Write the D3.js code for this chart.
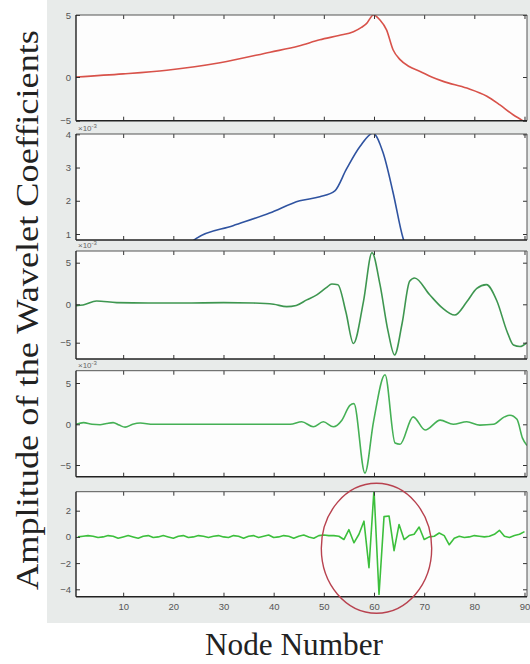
<!DOCTYPE html>
<html>
<head>
<meta charset="utf-8">
<script src="https://cdn.jsdelivr.net/npm/d3@7"></script>
<style>
  html, body { margin: 0; padding: 0; background: #ffffff; }
  svg { display: block; }
</style>
</head>
<body>
<svg id="chart" width="530" height="664"></svg>
<script>
// ---- data -------------------------------------------------------------
const nodeTicks = [10, 20, 30, 40, 50, 60, 70, 80, 90];

// approximation signal (level 1)
const a1Nodes  = [0.6, 10, 18.7, 29.3, 39.3, 45, 49.2, 53, 55.9, 57.5, 58.5, 59.9, 61.2, 62.5, 63.8, 65.2, 67, 69.2, 71.5, 73.8, 78.5, 82.5, 85.1, 87.8, 89.4, 90.5];
const a1Values = [0, 0.25, 0.55, 1.15, 2.0, 2.5, 3.0, 3.35, 3.65, 4.0, 4.3, 5.0, 4.6, 3.8, 2.2, 1.4, 0.85, 0.45, 0.0, -0.5, -1.27, -2.2, -3.2, -4.35, -4.9, -5.3];
const a1Ticks  = [-5, 0, 5];

// approximation signal (level 2), ×10^-3
const a2Nodes  = [22, 24.6, 31.9, 39.2, 45.2, 49.2, 52.2, 54.5, 57.2, 59.8, 61.8, 63.8, 65.8, 67.5];
const a2Values = [0.55, 0.87, 1.25, 1.63, 2.0, 2.12, 2.3, 2.95, 3.63, 4.03, 3.45, 2.25, 0.87, 0.3];
const a2Ticks  = [1, 2, 3, 4];

// detail coefficients (level 3), ×10^-3
const d3Nodes  = [0.6, 2, 4.7, 8.7, 15, 22, 30, 36, 40, 42.6, 44.5, 46.6, 48.6, 50.5, 51.6, 52.8, 54.4, 55.9, 57.9, 59.6, 61.2, 62.8, 64.1, 65.6, 67.1, 68.1, 71.1, 73.5, 76.1, 78.5, 80.5, 82.4, 84.5, 86.5, 87.8, 89.1, 90.5];
const d3Values = [-0.17, -0.1, 0.4, 0.2, 0.15, 0.15, 0.2, 0.15, 0.0, -0.3, -0.15, 0.53, 1.14, 2.0, 2.44, 2.36, -1.0, -5.1, 0.33, 6.2, 2.36, -3.5, -6.6, -2.5, 2.76, 3.17, 1.14, -0.4, -1.4, 0.3, 1.9, 2.36, 0.4, -3.5, -5.3, -5.5, -5.0];
const d3Ticks  = [-5, 0, 5];

// detail coefficients (level 2), ×10^-3
const d2Nodes  = [0.6, 2.1, 3.8, 5.4, 6.7, 8.0, 9.2, 10.4, 11.9, 13.4, 16, 25, 35, 41, 43.3, 45.6, 47.9, 49.9, 51.9, 53.6, 55.2, 56.0, 58.2, 59.9, 62.2, 64.2, 65.2, 67.8, 70.2, 73.2, 75.8, 78.5, 81.1, 83.8, 86, 87.1, 88.5, 89.6, 90.5];
const d2Values = [0, 0.2, 0.0, -0.05, 0.1, 0.2, -0.1, -0.35, 0.0, 0.15, 0.0, 0.0, 0.0, 0.0, 0.0, 0.3, -0.3, 0.3, -0.3, 0.5, 2.3, 2.5, -6.0, 0.3, 6.0, -2.3, -2.45, 0.9, -0.7, 0.5, 0.0, 0.3, -0.1, 0.0, 0.9, 1.1, 0.6, -1.7, -2.6];
const d2Ticks  = [-5, 0, 5];

// detail coefficients (level 1)
const d1Nodes  = d3.range(1, 91);
const d1Values = [0, 0.05, 0.1, 0.05, -0.05, 0, 0.1, 0.05, -0.1, 0,
                  0.1, 0, -0.1, 0.05, 0.1, -0.05, 0, 0.1, 0, -0.1,
                  0.05, 0.1, -0.05, 0, 0.1, 0.05, -0.05, 0.05, 0.1, 0,
                  -0.05, 0.1, 0.05, -0.1, 0.05, 0.1, -0.05, 0.05, 0.15, -0.05,
                  0, 0.1, 0.05, -0.1, 0.05, 0.15, 0, -0.1, 0.1, 0.15,
                  0.1, 0.1, 0.05, -0.2, 0.55, -0.45, 0.2, 1.2, -2.35, 3.6,
                  -4.4, 1.55, 1.6, -1.05, 0.95, -0.2, 0.1, 0.2, 0.75, -0.2,
                  0, 0.05, 0.3, 0.1, -0.6, -0.1, 0.05, -0.05, 0, 0.1,
                  0.05, 0, 0.05, 0.2, 0.5, 0.05, -0.05, 0.1, 0.2, 0.4];
const d1Ticks  = [-4, -2, 0, 2];

// highlighted region on the level-1 details (node range, value range)
const focusNodes  = [49.5, 71.5];
const focusValues = [-5.83, 4.09];

// ---- layout -----------------------------------------------------------
const svg = d3.select("#chart");
const W = 530, H = 664;
const left = 76, right = 527;

svg.append("rect").attr("x", 0).attr("y", 0).attr("width", W).attr("height", H).attr("fill", "#ffffff");
svg.append("rect").attr("x", 47).attr("y", 0).attr("width", W - 47).attr("height", 623).attr("fill", "#e8ebea");

const x = d3.scaleLinear().domain([0.6, 90.5]).range([left, right]);

const panels = [
  { nodes: a1Nodes, values: a1Values, ticks: a1Ticks, color: "#d8524a", exp: false, linear: false,
    y: d3.scaleLinear().domain([-5, 0, 5]).range([120.7, 77, 15]), top: 15, bottom: 120.7 },
  { nodes: a2Nodes, values: a2Values, ticks: a2Ticks, color: "#2f53a0", exp: true, linear: false,
    y: d3.scaleLinear().domain([1, 4]).range([234, 134.3]), top: 134, bottom: 240 },
  { nodes: d3Nodes, values: d3Values, ticks: d3Ticks, color: "#3e9650", exp: true, linear: false,
    y: d3.scaleLinear().domain([-5, 0, 5]).range([342.7, 304.3, 262.7]), top: 251, bottom: 359 },
  { nodes: d2Nodes, values: d2Values, ticks: d2Ticks, color: "#45b055", exp: true, linear: false,
    y: d3.scaleLinear().domain([-5, 0, 5]).range([465, 424.3, 383]), top: 370.7, bottom: 476.7 },
  { nodes: d1Nodes, values: d1Values, ticks: d1Ticks, color: "#3cbf3c", exp: false, linear: true,
    y: d3.scaleLinear().domain([-4, 2]).range([589.3, 510.7]), top: 491.7, bottom: 596.7 }
];

const tickFont = "'Liberation Sans', Arial, sans-serif";

panels.forEach((p, i) => {
  const g = svg.append("g");
  const h = p.bottom - p.top;

  g.append("rect").attr("x", left).attr("y", p.top).attr("width", right - left).attr("height", h)
    .attr("fill", "#fdfdfd");

  const clipId = "clip" + i;
  svg.append("clipPath").attr("id", clipId)
    .append("rect").attr("x", left).attr("y", p.top).attr("width", right - left).attr("height", h);

  const line = d3.line()
    .x((d, k) => x(p.nodes[k]))
    .y(d => p.y(d))
    .curve(p.linear ? d3.curveLinear : d3.curveMonotoneX);

  g.append("path")
    .attr("clip-path", `url(#${clipId})`)
    .attr("d", line(p.values))
    .attr("fill", "none")
    .attr("stroke", p.color)
    .attr("stroke-width", 1.6)
    .attr("stroke-linejoin", "round");

  // axes: inward ticks on all four sides
  const bottomAxis = d3.axisBottom(x).tickValues(nodeTicks).tickSizeInner(-4).tickSizeOuter(0)
    .tickFormat(i === panels.length - 1 ? d3.format("d") : () => "");
  const topAxis = d3.axisTop(x).tickValues(nodeTicks).tickSizeInner(-4).tickSizeOuter(0).tickFormat(() => "");
  const leftAxis = d3.axisLeft(p.y).tickValues(p.ticks).tickSizeInner(-4).tickSizeOuter(0).tickFormat(d3.format("d"));
  const rightAxis = d3.axisRight(p.y).tickValues(p.ticks).tickSizeInner(-4).tickSizeOuter(0).tickFormat(() => "");

  const ax = [
    g.append("g").attr("transform", `translate(0,${p.bottom})`).call(bottomAxis),
    g.append("g").attr("transform", `translate(0,${p.top})`).call(topAxis),
    g.append("g").attr("transform", `translate(${left},0)`).call(leftAxis),
    g.append("g").attr("transform", `translate(${right},0)`).call(rightAxis)
  ];
  ax.forEach(a => {
    a.select(".domain").remove();
    a.selectAll(".tick line").attr("stroke", "#333").attr("stroke-width", 1);
    a.selectAll(".tick text").attr("fill", "#555").style("font-family", tickFont).style("font-size", "9.5px");
  });
  ax[0].selectAll(".tick text").attr("dy", "0.71em").attr("y", 7);
  ax[2].selectAll(".tick text").attr("x", -5);

  // frame
  g.append("line").attr("x1", left).attr("x2", right).attr("y1", p.top).attr("y2", p.top)
    .attr("stroke", "#555").attr("stroke-width", 1);
  g.append("line").attr("x1", right).attr("x2", right).attr("y1", p.top).attr("y2", p.bottom)
    .attr("stroke", "#555").attr("stroke-width", 1);
  g.append("line").attr("x1", left).attr("x2", right).attr("y1", p.bottom).attr("y2", p.bottom)
    .attr("stroke", "#222").attr("stroke-width", 1.4);
  g.append("line").attr("x1", left).attr("x2", left).attr("y1", p.top).attr("y2", p.bottom)
    .attr("stroke", "#222").attr("stroke-width", 1.4);

  if (p.exp) {
    const t = g.append("text").attr("x", left + 2).attr("y", p.top - 3)
      .attr("fill", "#666").style("font-family", tickFont).style("font-size", "8px");
    t.append("tspan").text("×10");
    t.append("tspan").attr("dy", -3).style("font-size", "6px").text("-3");
  }
});

// highlight ellipse around the disturbance in the level-1 details
const p5 = panels[4];
svg.append("ellipse")
  .attr("cx", (x(focusNodes[0]) + x(focusNodes[1])) / 2)
  .attr("cy", (p5.y(focusValues[0]) + p5.y(focusValues[1])) / 2)
  .attr("rx", (x(focusNodes[1]) - x(focusNodes[0])) / 2)
  .attr("ry", (p5.y(focusValues[0]) - p5.y(focusValues[1])) / 2)
  .attr("fill", "none")
  .attr("stroke", "#b8424f")
  .attr("stroke-width", 1.4);

// axis titles
const serif = "'Liberation Serif', 'Times New Roman', serif";
svg.append("text")
  .attr("transform", "translate(38,310) rotate(-90)")
  .attr("text-anchor", "middle")
  .attr("fill", "#222")
  .style("font-family", serif)
  .style("font-size", "31px")
  .attr("textLength", 560)
  .attr("lengthAdjust", "spacingAndGlyphs")
  .text("Amplitude of the Wavelet Coefficients");

svg.append("text")
  .attr("x", 294)
  .attr("y", 655)
  .attr("text-anchor", "middle")
  .attr("fill", "#222")
  .style("font-family", serif)
  .style("font-size", "31px")
  .attr("textLength", 178)
  .attr("lengthAdjust", "spacingAndGlyphs")
  .text("Node Number");
</script>
</body>
</html>
